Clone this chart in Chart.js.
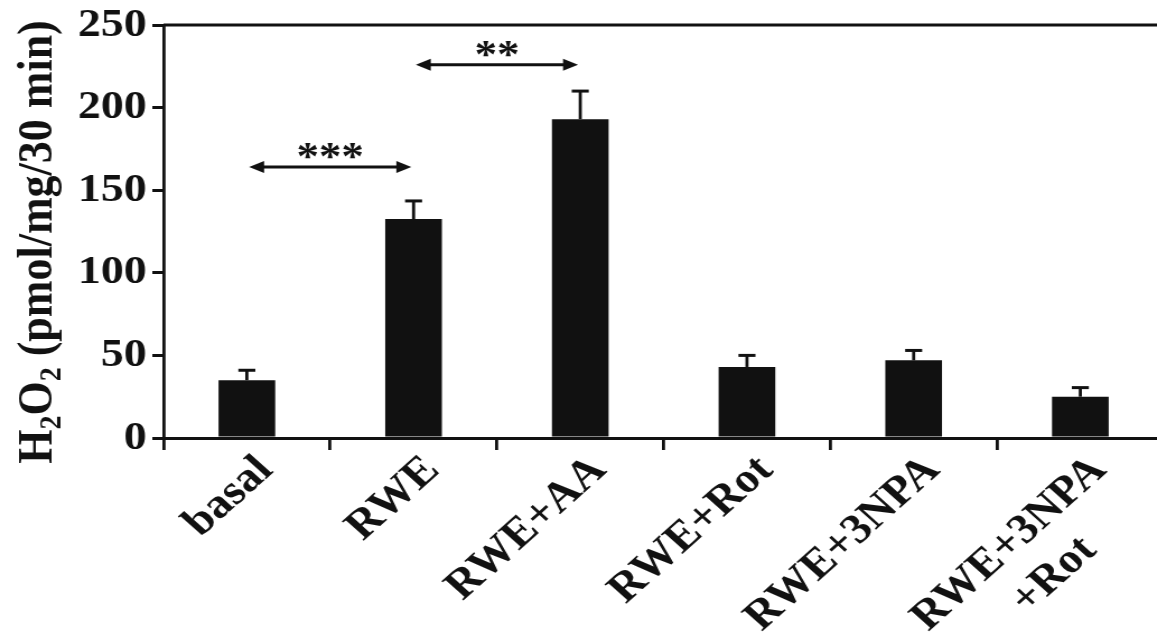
<!DOCTYPE html>
<html><head><meta charset="utf-8">
<script src="https://cdn.jsdelivr.net/npm/chart.js@4"></script>
<style>html,body{margin:0;padding:0;background:#fff;overflow:hidden;width:1157px;height:635px}
#wrap{width:1039px;height:635px;position:relative;transform:scaleX(1.12);transform-origin:0 0}</style>
</head><body><div id="wrap"><canvas id="c"></canvas></div>
<script>
// ---- data ----
const categories = ['basal', 'RWE', 'RWE+AA', 'RWE+Rot', 'RWE+3NPA', ['RWE+3NPA', '+Rot      ']];
const means = [35, 132.5, 193, 43, 47, 25];
const errors = [6, 11, 17, 7, 6, 5.5];
const yMin = 0, yMax = 250, yStep = 50;
const compFrom = [0, 1];
const compTo = [1, 2];
const compLevel = [164, 226];
const compLabel = ['***', '**'];
const yTitleParts = [['H', false], ['2', true], ['O', false], ['2', true], [' (pmol/mg/30 min)', false]];

const FONT = '"Liberation Serif", serif';
const INK = '#111';

const extras = {
  id: 'extras',
  afterDatasetsDraw(chart) {
    const ctx = chart.ctx, xs = chart.scales.x, ys = chart.scales.y, ca = chart.chartArea;
    const meta = chart.getDatasetMeta(0);
    ctx.save();
    ctx.strokeStyle = INK; ctx.fillStyle = INK; ctx.lineWidth = 3;
    ctx.beginPath(); ctx.moveTo(ca.left, ca.top); ctx.lineTo(chart.width, ca.top); ctx.stroke();
    ctx.lineWidth = 2.8;
    meta.data.forEach((bar, i) => {
      const yTop = ys.getPixelForValue(means[i]);
      const yErr = ys.getPixelForValue(means[i] + errors[i]);
      ctx.beginPath(); ctx.moveTo(bar.x, yTop); ctx.lineTo(bar.x, yErr); ctx.stroke();
      ctx.lineWidth = 3;
      ctx.beginPath(); ctx.moveTo(bar.x - 7.6, yErr); ctx.lineTo(bar.x + 7.6, yErr); ctx.stroke();
      ctx.lineWidth = 2.8;
    });
    for (let k = 0; k < compFrom.length; k++) {
      const x1 = xs.getPixelForValue(compFrom[k]) + 2;
      const x2 = xs.getPixelForValue(compTo[k]) - 2;
      const y = ys.getPixelForValue(compLevel[k]);
      const hl = 13.4, hw = 6;
      ctx.lineWidth = 3;
      ctx.beginPath(); ctx.moveTo(x1 + hl - 2, y); ctx.lineTo(x2 - hl + 2, y); ctx.stroke();
      ctx.beginPath(); ctx.moveTo(x1, y); ctx.lineTo(x1 + hl, y - hw); ctx.lineTo(x1 + hl, y + hw); ctx.closePath(); ctx.fill();
      ctx.beginPath(); ctx.moveTo(x2, y); ctx.lineTo(x2 - hl, y - hw); ctx.lineTo(x2 - hl, y + hw); ctx.closePath(); ctx.fill();
      ctx.font = 'bold 40px ' + FONT;
      ctx.textAlign = 'center'; ctx.textBaseline = 'alphabetic';
      const m = ctx.measureText(compLabel[k]);
      const gc = (m.actualBoundingBoxAscent - m.actualBoundingBoxDescent) / 2;
      ctx.fillText(compLabel[k], (x1 + x2) / 2, y - 16 + gc);
    }
    const big = 44, small = 28;
    ctx.translate(32, 242);
    ctx.rotate(-Math.PI / 2);
    let total = 0;
    yTitleParts.forEach(([t, sub]) => { ctx.font = 'bold ' + (sub ? small : big) + 'px ' + FONT; total += ctx.measureText(t).width; });
    let x = -total / 2;
    ctx.textAlign = 'left'; ctx.textBaseline = 'alphabetic';
    yTitleParts.forEach(([t, sub]) => {
      ctx.font = 'bold ' + (sub ? small : big) + 'px ' + FONT;
      ctx.fillText(t, x, sub ? 14 + 8 : 14);
      x += ctx.measureText(t).width;
    });
    ctx.restore();
  }
};

function draw() {
  new Chart(document.getElementById('c'), {
    type: 'bar',
    data: { labels: categories, datasets: [{ data: means, backgroundColor: INK, borderWidth: 0, barPercentage: 0.34, categoryPercentage: 1 }] },
    options: {
      responsive: true, maintainAspectRatio: false, animation: false,
      layout: { padding: { top: 25, left: 0, right: 0, bottom: 0 } },
      plugins: { legend: { display: false }, tooltip: { enabled: false } },
      scales: {
        x: {
          grid: { display: true, drawOnChartArea: false, offset: true, tickLength: 12, lineWidth: 2.8, color: INK },
          border: { display: true, width: 3, color: INK },
          ticks: { maxRotation: 45, minRotation: 45, autoSkip: false, color: INK, padding: -4, labelOffset: 17,
                   font: { family: FONT, weight: 'bold', size: 42 } },
          afterFit(s) { s.height = 197; s.paddingLeft = 0; s.paddingRight = 0; }
        },
        y: {
          min: yMin, max: yMax,
          grid: { display: true, drawOnChartArea: false, tickLength: 10, lineWidth: 3, color: INK },
          border: { display: true, width: 2.8, color: INK },
          ticks: { stepSize: yStep, color: INK, padding: 5, font: { family: FONT, weight: 'bold', size: 41 } },
          afterFit(s) { s.width = 146; s.paddingTop = 0; s.paddingBottom = 0; }
        }
      }
    },
    plugins: [extras]
  });
}
let done = false;
function go() { if (!done) { done = true; draw(); } }
Promise.all([
  document.fonts.load('bold 40px "Liberation Serif"', 'RWE+AA 250'),
  document.fonts.load('bold 28px "Liberation Serif"', '2')
]).then(go, go);
setTimeout(go, 1500);
</script></body></html>
